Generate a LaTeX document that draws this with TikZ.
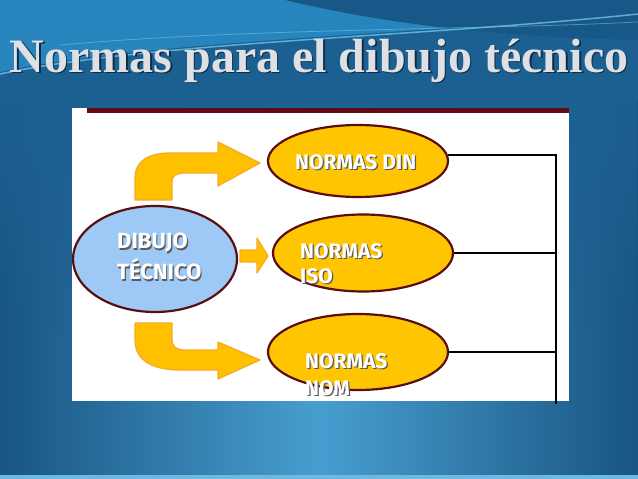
\documentclass[tikz,border=0pt]{standalone}
\usepackage{fontspec}
\newfontfamily\titlefont{Liberation Serif}
\newfontfamily\labelfont{Fira Sans}
\usetikzlibrary{shapes.geometric,fadings}
\definecolor{bgbase}{RGB}{28,96,146}
\definecolor{bgedge}{RGB}{24,85,130}
\definecolor{bgglow}{RGB}{72,158,208}
\definecolor{bgupper}{RGB}{40,132,188}
\definecolor{bgswoosh}{RGB}{24,88,136}
\definecolor{cyanline}{RGB}{120,210,240}
\definecolor{bgstrip}{RGB}{110,185,225}
\definecolor{titlegray}{RGB}{222,224,228}
\definecolor{titleshadow}{RGB}{15,45,75}
\definecolor{barmaroon}{RGB}{100,8,20}
\definecolor{maroon}{RGB}{90,14,16}
\definecolor{skyfill}{RGB}{158,200,245}
\definecolor{goldfill}{RGB}{255,197,0}
\definecolor{arrowfill}{RGB}{255,192,0}
\definecolor{arrowedge}{RGB}{247,170,40}
\definecolor{shadowgray}{RGB}{90,90,90}
\tikzfading[name=fadedown, top color=transparent!0, bottom color=transparent!100]
\newcommand{\shadowlabel}[4][]{%
  \node[labeltxt,#1,text=shadowgray,xshift=1.2pt,yshift=-1.2pt] at #3 {#4};
  \node[labeltxt,#1] (#2) at #3 {#4};}

\begin{document}
\begin{tikzpicture}[x=1pt,y=-1pt]
    \tikzset{wire/.style={draw,line width=1.6pt,black}}
    \tikzset{blockarrow/.style={fill=arrowfill,draw=arrowedge,line width=1.2pt,line join=round}}
    \tikzset{bubble/.style={ellipse,draw=maroon,line width=2.2pt,inner sep=0pt,minimum width=180pt}}
    \tikzset{labeltxt/.style={anchor=north west,align=left,inner sep=0pt,text=white,
        font=\labelfont\bfseries\fontsize{21}{26}\selectfont}}

    \useasboundingbox (0,0) rectangle (638,479);
    \clip (0,0) rectangle (638,479);

    % background
    \fill[bgbase] (0,0) rectangle (638,479);
    \shade[left color=bgedge,right color=bgedge,middle color=bgglow] (0,100) rectangle (638,479);
    \fill[bgbase,path fading=fadedown] (0,100) rectangle (638,330);
    \fill[bgupper] (0,0) -- (0,72) .. controls (150,40) and (420,35) .. (638,12) -- (638,0) -- cycle;
    \fill[bgswoosh] (285,0) .. controls (370,20) and (470,36) .. (638,40) -- (638,0) -- cycle;
    \draw[cyanline,line width=1.5pt,opacity=.7] (0,74) .. controls (150,42) and (420,37) .. (638,14);
    \draw[cyanline,line width=.8pt,opacity=.5] (60,45) .. controls (250,28) and (480,30) .. (638,22);
    \fill[bgstrip] (0,475) rectangle (638,479);

    % title
    \node[anchor=base,inner sep=0pt,text=titleshadow,font=\titlefont\bfseries\fontsize{48}{58}\selectfont]
        at (320.5,73.5) {Normas para el dibujo técnico};
    \node[anchor=base,inner sep=0pt,text=titlegray,font=\titlefont\bfseries\fontsize{48}{58}\selectfont]
        (title) at (319,72) {Normas para el dibujo técnico};

    % panel
    \fill[white] (72,108) rectangle (569,401);
    \fill[barmaroon] (87,108) rectangle (569,112.5);

    % arrows
    \path[blockarrow] (135,200) -- (135,178) .. controls (135,160) and (150,153) .. (170,153)
        -- (218,153) -- (218,142) -- (260,163) -- (218,186) -- (218,173) -- (185,173)
        .. controls (176,173) and (172,176) .. (172,182) -- (172,200) -- cycle;
    \path[blockarrow] (240,250) -- (257,250) -- (257,238) -- (268,256) -- (257,273)
        -- (257,262) -- (240,262) -- cycle;
    \path[blockarrow] (135,323) -- (135,340) .. controls (135,362) and (155,370) .. (180,370)
        -- (218,370) -- (218,379) -- (260,360) -- (218,342) -- (218,350) -- (185,350)
        .. controls (176,350) and (172,346) .. (172,340) -- (172,323) -- cycle;

    % ellipses
    \node[bubble,fill=skyfill,minimum width=164pt,minimum height=106pt] (dibujo) at (155,259) {};
    \node[bubble,fill=goldfill,minimum height=72pt] (din) at (358,161) {};
    \node[bubble,fill=goldfill,minimum height=77pt] (iso) at (363,253) {};
    \node[bubble,fill=goldfill,minimum height=76pt] (nom) at (358,352) {};

    \shadowlabel[font=\labelfont\bfseries\fontsize{22}{31}\selectfont]{dibujotxt}{(117,233)}{DIBUJO\\TÉCNICO}
    \shadowlabel{dintxt}{(295,154)}{NORMAS DIN}
    \shadowlabel[font=\labelfont\bfseries\fontsize{21}{25}\selectfont]{isotxt}{(300,243)}{NORMAS\\ISO}
    \shadowlabel[font=\labelfont\bfseries\fontsize{21}{27}\selectfont]{nomtxt}{(305,353)}{NORMAS\\NOM}

    % bracket
    \coordinate (busend) at (556,404);
    \path[wire] (din.4.5) -| (busend);
    \path[wire] (iso.east) -- (iso.east -| busend);
    \path[wire] (nom.east) -- (nom.east -| busend);
\end{tikzpicture}
\end{document}
